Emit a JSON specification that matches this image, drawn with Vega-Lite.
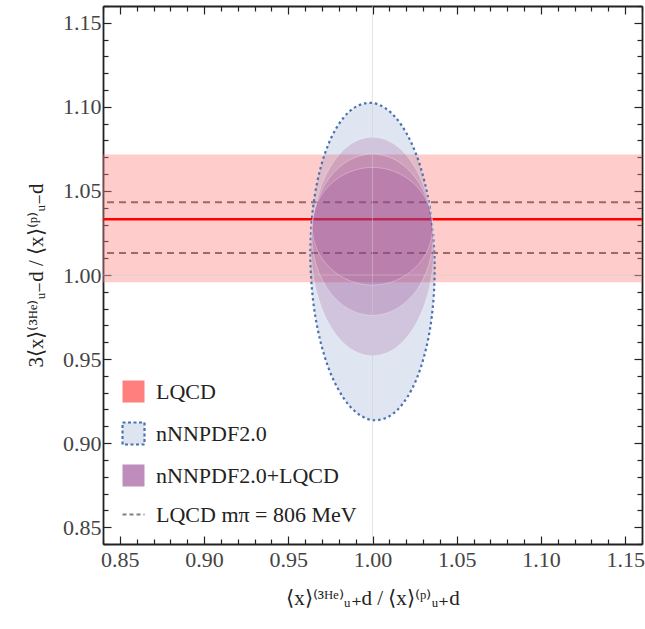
{
  "$schema": "https://vega.github.io/schema/vega-lite/v6.json",
  "width": 539,
  "height": 538,
  "autosize": {"type": "none"},
  "padding": {"left": 103, "top": 6, "right": 3, "bottom": 85},
  "background": "white",
  "config": {"view": {"stroke": null}, "font": "Liberation Serif"},
  "datasets": {
    "band": [{"series": "LQCD", "x0": 0.84, "x1": 1.16, "lo": 0.9957, "hi": 1.0716}],
    "lines": [{"series": "LQCD mπ = 806 MeV", "y": 1.0433}, {"series": "LQCD mπ = 806 MeV", "y": 1.0131}],
    "central": [{"y": 1.0332}],
    "ref": [{"v": 1.0}],
    "ell": [
      {"e": "blue", "series": "nNNPDF2.0", "i": 0, "x": 1.0369, "y": 1.0033},
      {"e": "blue", "series": "nNNPDF2.0", "i": 1, "x": 1.0341, "y": 1.0397},
      {"e": "blue", "series": "nNNPDF2.0", "i": 2, "x": 1.0261, "y": 1.0713},
      {"e": "blue", "series": "nNNPDF2.0", "i": 3, "x": 1.0141, "y": 1.0933},
      {"e": "blue", "series": "nNNPDF2.0", "i": 4, "x": 1.0000, "y": 1.1023},
      {"e": "blue", "series": "nNNPDF2.0", "i": 5, "x": 0.9859, "y": 1.0969},
      {"e": "blue", "series": "nNNPDF2.0", "i": 6, "x": 0.9739, "y": 1.0780},
      {"e": "blue", "series": "nNNPDF2.0", "i": 7, "x": 0.9659, "y": 1.0484},
      {"e": "blue", "series": "nNNPDF2.0", "i": 8, "x": 0.9631, "y": 1.0127},
      {"e": "blue", "series": "nNNPDF2.0", "i": 9, "x": 0.9659, "y": 0.9763},
      {"e": "blue", "series": "nNNPDF2.0", "i": 10, "x": 0.9739, "y": 0.9447},
      {"e": "blue", "series": "nNNPDF2.0", "i": 11, "x": 0.9859, "y": 0.9227},
      {"e": "blue", "series": "nNNPDF2.0", "i": 12, "x": 1.0000, "y": 0.9137},
      {"e": "blue", "series": "nNNPDF2.0", "i": 13, "x": 1.0141, "y": 0.9191},
      {"e": "blue", "series": "nNNPDF2.0", "i": 14, "x": 1.0261, "y": 0.9380},
      {"e": "blue", "series": "nNNPDF2.0", "i": 15, "x": 1.0341, "y": 0.9676},
      {"e": "p1", "series": "nNNPDF2.0+LQCD", "i": 0, "x": 1.0365, "y": 1.0170},
      {"e": "p1", "series": "nNNPDF2.0+LQCD", "i": 1, "x": 1.0337, "y": 1.0419},
      {"e": "p1", "series": "nNNPDF2.0+LQCD", "i": 2, "x": 1.0258, "y": 1.0630},
      {"e": "p1", "series": "nNNPDF2.0+LQCD", "i": 3, "x": 1.0140, "y": 1.0771},
      {"e": "p1", "series": "nNNPDF2.0+LQCD", "i": 4, "x": 1.0000, "y": 1.0820},
      {"e": "p1", "series": "nNNPDF2.0+LQCD", "i": 5, "x": 0.9860, "y": 1.0771},
      {"e": "p1", "series": "nNNPDF2.0+LQCD", "i": 6, "x": 0.9742, "y": 1.0630},
      {"e": "p1", "series": "nNNPDF2.0+LQCD", "i": 7, "x": 0.9663, "y": 1.0419},
      {"e": "p1", "series": "nNNPDF2.0+LQCD", "i": 8, "x": 0.9635, "y": 1.0170},
      {"e": "p1", "series": "nNNPDF2.0+LQCD", "i": 9, "x": 0.9663, "y": 0.9921},
      {"e": "p1", "series": "nNNPDF2.0+LQCD", "i": 10, "x": 0.9742, "y": 0.9710},
      {"e": "p1", "series": "nNNPDF2.0+LQCD", "i": 11, "x": 0.9860, "y": 0.9569},
      {"e": "p1", "series": "nNNPDF2.0+LQCD", "i": 12, "x": 1.0000, "y": 0.9520},
      {"e": "p1", "series": "nNNPDF2.0+LQCD", "i": 13, "x": 1.0140, "y": 0.9569},
      {"e": "p1", "series": "nNNPDF2.0+LQCD", "i": 14, "x": 1.0258, "y": 0.9710},
      {"e": "p1", "series": "nNNPDF2.0+LQCD", "i": 15, "x": 1.0337, "y": 0.9921},
      {"e": "p2", "series": "nNNPDF2.0+LQCD", "i": 0, "x": 1.0360, "y": 1.0240},
      {"e": "p2", "series": "nNNPDF2.0+LQCD", "i": 1, "x": 1.0333, "y": 1.0424},
      {"e": "p2", "series": "nNNPDF2.0+LQCD", "i": 2, "x": 1.0255, "y": 1.0579},
      {"e": "p2", "series": "nNNPDF2.0+LQCD", "i": 3, "x": 1.0138, "y": 1.0683},
      {"e": "p2", "series": "nNNPDF2.0+LQCD", "i": 4, "x": 1.0000, "y": 1.0720},
      {"e": "p2", "series": "nNNPDF2.0+LQCD", "i": 5, "x": 0.9862, "y": 1.0683},
      {"e": "p2", "series": "nNNPDF2.0+LQCD", "i": 6, "x": 0.9745, "y": 1.0579},
      {"e": "p2", "series": "nNNPDF2.0+LQCD", "i": 7, "x": 0.9667, "y": 1.0424},
      {"e": "p2", "series": "nNNPDF2.0+LQCD", "i": 8, "x": 0.9640, "y": 1.0240},
      {"e": "p2", "series": "nNNPDF2.0+LQCD", "i": 9, "x": 0.9667, "y": 1.0056},
      {"e": "p2", "series": "nNNPDF2.0+LQCD", "i": 10, "x": 0.9745, "y": 0.9901},
      {"e": "p2", "series": "nNNPDF2.0+LQCD", "i": 11, "x": 0.9862, "y": 0.9797},
      {"e": "p2", "series": "nNNPDF2.0+LQCD", "i": 12, "x": 1.0000, "y": 0.9760},
      {"e": "p2", "series": "nNNPDF2.0+LQCD", "i": 13, "x": 1.0138, "y": 0.9797},
      {"e": "p2", "series": "nNNPDF2.0+LQCD", "i": 14, "x": 1.0255, "y": 0.9901},
      {"e": "p2", "series": "nNNPDF2.0+LQCD", "i": 15, "x": 1.0333, "y": 1.0056},
      {"e": "p3", "series": "nNNPDF2.0+LQCD", "i": 0, "x": 1.0358, "y": 1.0290},
      {"e": "p3", "series": "nNNPDF2.0+LQCD", "i": 1, "x": 1.0331, "y": 1.0424},
      {"e": "p3", "series": "nNNPDF2.0+LQCD", "i": 2, "x": 1.0253, "y": 1.0537},
      {"e": "p3", "series": "nNNPDF2.0+LQCD", "i": 3, "x": 1.0137, "y": 1.0613},
      {"e": "p3", "series": "nNNPDF2.0+LQCD", "i": 4, "x": 1.0000, "y": 1.0640},
      {"e": "p3", "series": "nNNPDF2.0+LQCD", "i": 5, "x": 0.9863, "y": 1.0613},
      {"e": "p3", "series": "nNNPDF2.0+LQCD", "i": 6, "x": 0.9747, "y": 1.0537},
      {"e": "p3", "series": "nNNPDF2.0+LQCD", "i": 7, "x": 0.9669, "y": 1.0424},
      {"e": "p3", "series": "nNNPDF2.0+LQCD", "i": 8, "x": 0.9642, "y": 1.0290},
      {"e": "p3", "series": "nNNPDF2.0+LQCD", "i": 9, "x": 0.9669, "y": 1.0156},
      {"e": "p3", "series": "nNNPDF2.0+LQCD", "i": 10, "x": 0.9747, "y": 1.0043},
      {"e": "p3", "series": "nNNPDF2.0+LQCD", "i": 11, "x": 0.9863, "y": 0.9967},
      {"e": "p3", "series": "nNNPDF2.0+LQCD", "i": 12, "x": 1.0000, "y": 0.9940},
      {"e": "p3", "series": "nNNPDF2.0+LQCD", "i": 13, "x": 1.0137, "y": 0.9967},
      {"e": "p3", "series": "nNNPDF2.0+LQCD", "i": 14, "x": 1.0253, "y": 1.0043},
      {"e": "p3", "series": "nNNPDF2.0+LQCD", "i": 15, "x": 1.0331, "y": 1.0156}
    ],
    "legend": [
      {"series": "LQCD"},
      {"series": "nNNPDF2.0"},
      {"series": "nNNPDF2.0+LQCD"},
      {"series": "LQCD mπ = 806 MeV"}
    ]
  },
  "layer": [
    {
      "data": {"name": "lines"},
      "mark": {"type": "rule", "strokeDash": [7, 5], "strokeWidth": 2, "color": "#5a5a5a"},
      "encoding": {
        "y": {"field": "y", "type": "quantitative", "scale": {"domain": [0.84, 1.16], "nice": false, "zero": false}, "axis": null}
      }
    },
    {
      "data": {"name": "band"},
      "mark": {"type": "rect", "opacity": 0.4, "color": "#ff7f7f"},
      "encoding": {
        "x": {
          "field": "x0", "type": "quantitative", "scale": {"domain": [0.84, 1.16], "nice": false, "zero": false},
          "axis": {
            "orient": "bottom", "title": "⟨x⟩⁽³ᴴᵉ⁾ᵤ₊d / ⟨x⟩⁽ᵖ⁾ᵤ₊d",
            "values": [0.84, 0.85, 0.86, 0.87, 0.88, 0.89, 0.9, 0.91, 0.92, 0.93, 0.94, 0.95, 0.96, 0.97, 0.98, 0.99, 1.0, 1.01, 1.02, 1.03, 1.04, 1.05, 1.06, 1.07, 1.08, 1.09, 1.1, 1.11, 1.12, 1.13, 1.14, 1.15, 1.16],
            "labelExpr": "abs(datum.value * 20 - round(datum.value * 20)) < 0.001 ? format(datum.value, '.2f') : ''",
            "tickSize": {"condition": {"test": "abs(datum.value * 20 - round(datum.value * 20)) < 0.001", "value": -8}, "value": -5},
            "tickColor": "#222", "tickWidth": 1.2, "domainColor": "#222", "domainWidth": 1.8, "grid": false,
            "labelFont": "Liberation Serif", "labelFontSize": 22, "labelColor": "#444", "labelPadding": 13,
            "labelOverlap": false, "labelFlush": false, "labelBound": false,
            "titleFont": "Liberation Serif", "titleFontSize": 21, "titleFontWeight": "normal", "titleColor": "#222", "titlePadding": 14
          }
        },
        "x2": {"field": "x1"},
        "y": {
          "field": "lo", "type": "quantitative", "scale": {"domain": [0.84, 1.16], "nice": false, "zero": false},
          "axis": {
            "orient": "left", "title": "3⟨x⟩⁽³ᴴᵉ⁾ᵤ₋d / ⟨x⟩⁽ᵖ⁾ᵤ₋d",
            "values": [0.84, 0.85, 0.86, 0.87, 0.88, 0.89, 0.9, 0.91, 0.92, 0.93, 0.94, 0.95, 0.96, 0.97, 0.98, 0.99, 1.0, 1.01, 1.02, 1.03, 1.04, 1.05, 1.06, 1.07, 1.08, 1.09, 1.1, 1.11, 1.12, 1.13, 1.14, 1.15, 1.16],
            "labelExpr": "abs(datum.value * 20 - round(datum.value * 20)) < 0.001 ? format(datum.value, '.2f') : ''",
            "tickSize": {"condition": {"test": "abs(datum.value * 20 - round(datum.value * 20)) < 0.001", "value": -8}, "value": -5},
            "tickColor": "#222", "tickWidth": 1.2, "domainColor": "#222", "domainWidth": 1.8, "grid": false,
            "labelFont": "Liberation Serif", "labelFontSize": 22, "labelColor": "#444", "labelPadding": 10,
            "labelOverlap": false, "labelFlush": false, "labelBound": false,
            "titleFont": "Liberation Serif", "titleFontSize": 21, "titleFontWeight": "normal", "titleColor": "#222", "titlePadding": 16
          }
        },
        "y2": {"field": "hi"}
      }
    },
    {
      "data": {"name": "central"},
      "mark": {"type": "rule", "color": "#ff0000", "strokeWidth": 2.6},
      "encoding": {
        "y": {"field": "y", "type": "quantitative", "axis": null}
      }
    },
    {
      "data": {"name": "ell"},
      "transform": [{"filter": "datum.e === 'blue'"}],
      "mark": {"type": "line", "interpolate": "cardinal-closed", "filled": true, "fill": "#4c72b0", "fillOpacity": 0.18, "stroke": "#4c72b0", "strokeDash": [2.5, 3], "strokeWidth": 2.2},
      "encoding": {
        "x": {
          "field": "x", "type": "quantitative",
          "axis": {
            "orient": "top", "title": null, "labels": false,
            "values": [0.84, 0.85, 0.86, 0.87, 0.88, 0.89, 0.9, 0.91, 0.92, 0.93, 0.94, 0.95, 0.96, 0.97, 0.98, 0.99, 1.0, 1.01, 1.02, 1.03, 1.04, 1.05, 1.06, 1.07, 1.08, 1.09, 1.1, 1.11, 1.12, 1.13, 1.14, 1.15, 1.16],
            "tickSize": {"condition": {"test": "abs(datum.value * 20 - round(datum.value * 20)) < 0.001", "value": -8}, "value": -5},
            "tickColor": "#222", "tickWidth": 1.2, "domainColor": "#222", "domainWidth": 1.8, "grid": false
          }
        },
        "y": {
          "field": "y", "type": "quantitative",
          "axis": {
            "orient": "right", "title": null, "labels": false,
            "values": [0.84, 0.85, 0.86, 0.87, 0.88, 0.89, 0.9, 0.91, 0.92, 0.93, 0.94, 0.95, 0.96, 0.97, 0.98, 0.99, 1.0, 1.01, 1.02, 1.03, 1.04, 1.05, 1.06, 1.07, 1.08, 1.09, 1.1, 1.11, 1.12, 1.13, 1.14, 1.15, 1.16],
            "tickSize": {"condition": {"test": "abs(datum.value * 20 - round(datum.value * 20)) < 0.001", "value": -8}, "value": -5},
            "tickColor": "#222", "tickWidth": 1.2, "domainColor": "#222", "domainWidth": 1.8, "grid": false
          }
        },
        "order": {"field": "i", "type": "quantitative"}
      }
    },
    {
      "data": {"name": "ell"},
      "transform": [{"filter": "datum.e !== 'blue'"}],
      "mark": {"type": "line", "interpolate": "cardinal-closed", "filled": true, "fill": "#944190", "fillOpacity": 0.2, "stroke": "#ffffff", "strokeWidth": 0.8, "strokeOpacity": 0.35},
      "encoding": {
        "x": {"field": "x", "type": "quantitative", "axis": null},
        "y": {"field": "y", "type": "quantitative", "axis": null},
        "detail": {"field": "e", "type": "nominal"},
        "order": {"field": "i", "type": "quantitative"}
      }
    },
    {
      "data": {"name": "ref"},
      "mark": {"type": "rule", "color": "#cccccc", "opacity": 0.5, "strokeWidth": 1},
      "encoding": {"x": {"field": "v", "type": "quantitative", "axis": null}}
    },
    {
      "data": {"name": "ref"},
      "mark": {"type": "rule", "color": "#cccccc", "opacity": 0.5, "strokeWidth": 1},
      "encoding": {"y": {"field": "v", "type": "quantitative", "axis": null}}
    },
    {
      "data": {"name": "legend"},
      "transform": [{"filter": "false"}],
      "mark": {"type": "point", "strokeWidth": 2.2, "opacity": 1},
      "encoding": {
        "fill": {
          "field": "series", "type": "nominal",
          "scale": {"domain": ["LQCD", "nNNPDF2.0", "nNNPDF2.0+LQCD", "LQCD mπ = 806 MeV"], "range": ["#ff7f7f", "#dfe5f0", "#bf8dbb", "transparent"]},
          "legend": {"title": null, "orient": "bottom-left", "offset": 18, "padding": 0, "symbolSize": 484, "symbolStrokeWidth": 2.2, "symbolOpacity": 1, "labelFont": "Liberation Serif", "labelFontSize": 22, "labelColor": "#222", "labelOffset": 10, "labelLimit": 400, "rowPadding": 11}
        },
        "stroke": {
          "field": "series", "type": "nominal",
          "scale": {"domain": ["LQCD", "nNNPDF2.0", "nNNPDF2.0+LQCD", "LQCD mπ = 806 MeV"], "range": ["transparent", "#4c72b0", "transparent", "#808080"]},
          "legend": {"title": null, "orient": "bottom-left", "offset": 18, "padding": 0, "symbolSize": 484, "symbolStrokeWidth": 2.2, "symbolOpacity": 1, "labelFont": "Liberation Serif", "labelFontSize": 22, "labelColor": "#222", "labelOffset": 10, "labelLimit": 400, "rowPadding": 11}
        },
        "shape": {
          "field": "series", "type": "nominal",
          "scale": {"domain": ["LQCD", "nNNPDF2.0", "nNNPDF2.0+LQCD", "LQCD mπ = 806 MeV"], "range": ["square", "square", "square", "stroke"]},
          "legend": {"title": null, "orient": "bottom-left", "offset": 18, "padding": 0, "symbolSize": 484, "symbolStrokeWidth": 2.2, "symbolOpacity": 1, "labelFont": "Liberation Serif", "labelFontSize": 22, "labelColor": "#222", "labelOffset": 10, "labelLimit": 400, "rowPadding": 11}
        },
        "strokeDash": {
          "field": "series", "type": "nominal",
          "scale": {"domain": ["LQCD", "nNNPDF2.0", "nNNPDF2.0+LQCD", "LQCD mπ = 806 MeV"], "range": [[1, 0], [3, 2.5], [1, 0], [4, 3]]},
          "legend": {"title": null, "orient": "bottom-left", "offset": 18, "padding": 0, "symbolSize": 484, "symbolStrokeWidth": 2.2, "symbolOpacity": 1, "labelFont": "Liberation Serif", "labelFontSize": 22, "labelColor": "#222", "labelOffset": 10, "labelLimit": 400, "rowPadding": 11}
        }
      }
    }
  ],
  "resolve": {"axis": {"x": "independent", "y": "independent"}}
}
